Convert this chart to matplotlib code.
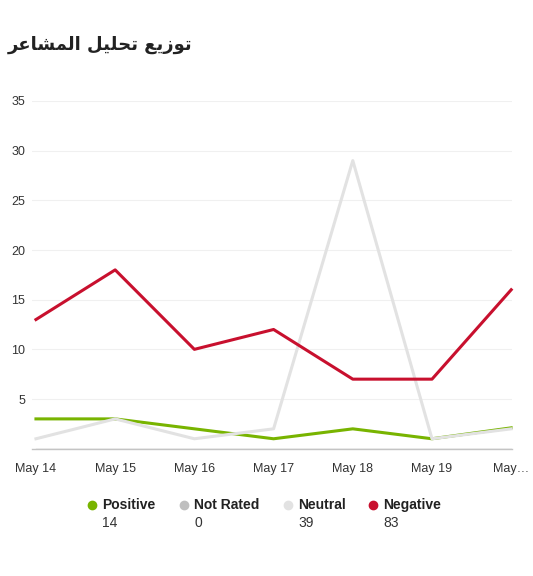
import matplotlib.pyplot as plt
from matplotlib.lines import Line2D

dates = ["May 14", "May 15", "May 16", "May 17", "May 18", "May 19", "May\u2026"]
positive = [3, 3, 2, 1, 2, 1, 2.1]
not_rated = [0, 0, 0, 0, 0, 0, 0]
neutral = [1, 3, 1, 2, 29, 1, 2]
negative = [13, 18, 10, 12, 7, 7, 16]
series_names = ["Positive", "Not Rated", "Neutral", "Negative"]
series_totals = [14, 0, 39, 83]
colors = ["#78b400", "#bfbfbf", "#e2e2e2", "#c8102e"]

# Arabic title written in presentation forms, visual order (matplotlib has no shaping)
w1 = "\ufe97\ufeee\ufeaf\ufef3\ufeca"
w2 = "\ufe97\ufea4\ufee0\ufef4\ufede"
w3 = "\ufe8d\ufedf\ufee4\ufeb8\ufe8e\ufecb\ufeae"
title = (w1 + " " + w2 + " " + w3)[::-1]

plt.rcParams["font.family"] = ["Liberation Sans", "DejaVu Sans"]

fig = plt.figure(figsize=(5.33, 5.76), dpi=100)
ax = fig.add_axes([32 / 533, 0.221, 480 / 533, 0.6037])

x = list(range(len(dates)))
ax.plot(x, positive, color=colors[0], linewidth=2.2, clip_on=False)
# not rated sits on zero, mostly hidden by the axis line
ax.plot(x, not_rated, color=colors[1], linewidth=1, zorder=1)
ax.plot(x, neutral, color=colors[2], linewidth=2.2, clip_on=False)
ax.plot(x, negative, color=colors[3], linewidth=2.2, clip_on=False)

ax.set_xlim(-0.05, 6.01)
ax.set_ylim(0, 35)
ax.set_yticks([5, 10, 15, 20, 25, 30, 35])
ax.set_xticks(x)
ax.set_xticklabels(dates)
ax.grid(axis="y", color="#f0f0f0", linewidth=0.8)
ax.set_axisbelow(True)
for s in ["top", "right", "left"]:
    ax.spines[s].set_visible(False)
ax.spines["bottom"].set_color("#c4c4c4")
ax.spines["bottom"].set_linewidth(1)
ax.tick_params(axis="both", length=0, labelsize=9, colors="#333333")
ax.tick_params(axis="x", pad=10)
ax.tick_params(axis="y", pad=5)

fig.text(8 / 533, 1 - 45 / 576, title, family="DejaVu Sans", fontweight="bold",
         fontsize=13, color="#222222", ha="left", va="center")

dot_x = [92, 184, 288, 373]
for i, name in enumerate(series_names):
    px = dot_x[i] / 533
    fig.add_artist(Line2D([px], [1 - 505 / 576], marker="o", markersize=6,
                          color=colors[i], linestyle="none"))
    fig.text(px + 10 / 533, 1 - 505 / 576, name, fontsize=10, fontweight="bold",
             color="#222222", ha="left", va="center")
    fig.text(px + 10 / 533, 1 - 523 / 576, str(series_totals[i]), fontsize=10,
             color="#333333", ha="left", va="center")

fig.savefig("out.png", dpi=100)
